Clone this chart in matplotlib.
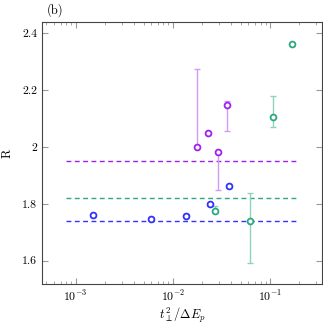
import matplotlib.pyplot as plt
from matplotlib.ticker import FuncFormatter, LogLocator
import numpy as np

plt.rcParams['font.family'] = 'cmr10'
plt.rcParams['mathtext.fontset'] = 'cm'
plt.rcParams['axes.formatter.use_mathtext'] = True

# data
blue_x = [0.00149, 0.00593, 0.0135, 0.024, 0.0378]
blue_y = [1.759, 1.747, 1.758, 1.798, 1.861]
blue_lo = [0.006, 0.005, 0.005, 0.005, 0.005]
blue_hi = [0.006, 0.005, 0.005, 0.005, 0.005]

purple_x = [0.0177, 0.0231, 0.0291, 0.0363]
purple_y = [2.000, 2.049, 1.981, 2.146]
purple_lo = [0.0, 0.005, 0.132, 0.090]
purple_hi = [0.273, 0.005, 0.0, 0.016]

teal_x = [0.0273, 0.0616, 0.108, 0.17]
teal_y = [1.774, 1.741, 2.107, 2.361]
teal_lo = [0.005, 0.149, 0.038, 0.005]
teal_hi = [0.018, 0.097, 0.071, 0.005]

# horizontal reference levels
levels = [1.95, 1.82, 1.74]
level_colors = ['#a020f0', '#2ca882', '#3232ff']
line_x = [8e-4, 0.2]

fig = plt.figure(figsize=(3.23, 3.27), dpi=100)
ax = fig.add_axes([0.130, 0.131, 0.867, 0.802])

for lv, c in zip(levels, level_colors):
    ax.plot(line_x, [lv, lv], '--', color=c, lw=1.0, dashes=(3.5, 2.5))

series = [
    (blue_x, blue_y, blue_lo, blue_hi, '#3232ff', '#9a9aff'),
    (purple_x, purple_y, purple_lo, purple_hi, '#a020f0', '#d49af5'),
    (teal_x, teal_y, teal_lo, teal_hi, '#2ca882', '#8fd3bd'),
]
for x, y, lo, hi, c, ec in series:
    ax.errorbar(x, y, yerr=[lo, hi], fmt='none', ecolor=ec, elinewidth=1.0,
                capsize=2, capthick=1.0, zorder=2)
    ax.plot(x, y, 'o', mfc='white', mec=c, mew=1.3, ms=4.2, ls='none', zorder=3)

ax.set_xscale('log')
ax.set_xlim(4.5e-4, 0.343)
ax.set_ylim(1.517, 2.44)
ax.set_yticks([1.6, 1.8, 2.0, 2.2, 2.4])
ax.yaxis.set_major_formatter(FuncFormatter(lambda v, p: '%g' % v))
ax.xaxis.set_major_locator(LogLocator(base=10, numticks=10))
ax.xaxis.set_minor_locator(LogLocator(base=10, subs=np.arange(2, 10), numticks=10))

ax.tick_params(which='both', direction='in', top=True, right=True, color='#999999',
               labelsize=8.5)
ax.tick_params(which='major', length=4)
ax.tick_params(which='minor', length=2)
for s in ax.spines.values():
    s.set_color('#444444')

ax.set_xlabel(r'$t_\perp^2/\Delta E_p$', fontsize=9, labelpad=1)
ax.set_ylabel('R', fontsize=9, labelpad=6)
fig.text(0.145, 0.968, '(b)', fontsize=9, va='center', ha='left')

fig.savefig('out.png', dpi=100)
